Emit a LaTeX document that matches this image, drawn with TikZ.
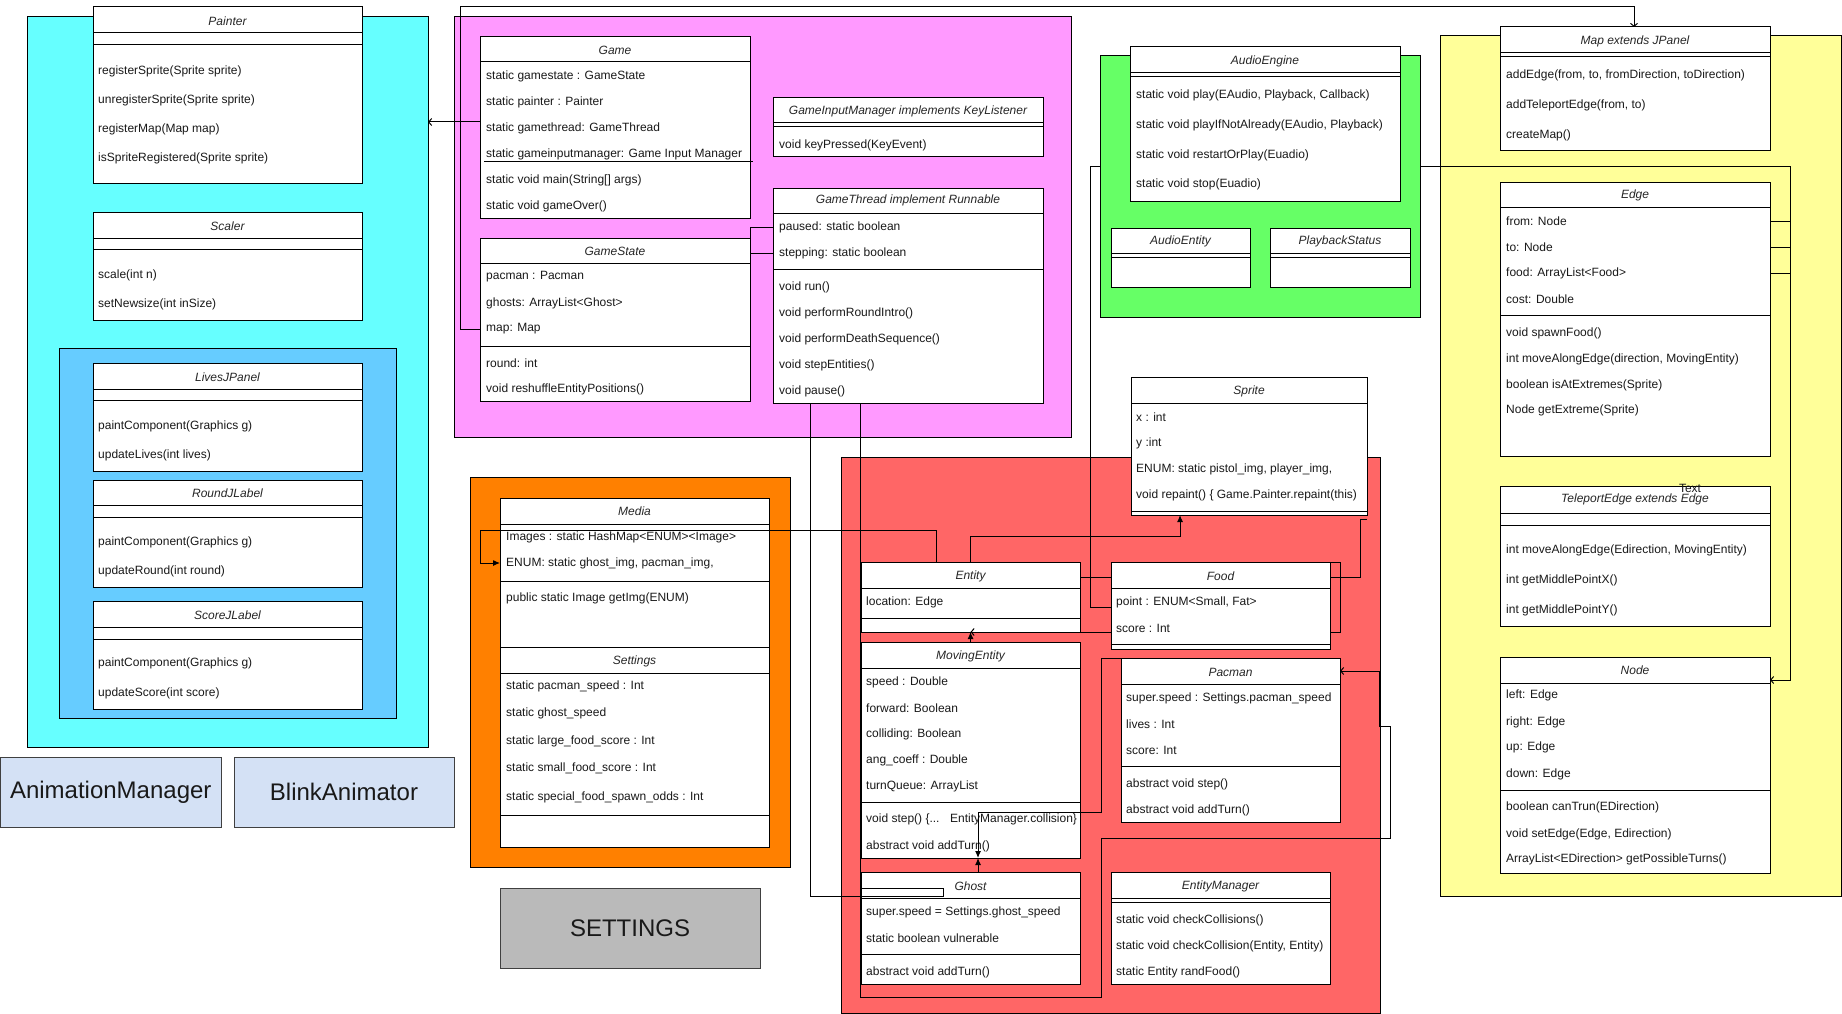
\documentclass[tikz,border=0pt]{standalone}
\usepackage{fontspec}
\setmainfont{Liberation Sans}
\usetikzlibrary{arrows.meta}
\definecolor{cyanbg}{HTML}{66FFFF}
\definecolor{bluebg}{HTML}{66CCFF}
\definecolor{pinkbg}{HTML}{FF99FF}
\definecolor{orangebg}{HTML}{FF8000}
\definecolor{redbg}{HTML}{FF6666}
\definecolor{greenbg}{HTML}{66FF66}
\definecolor{yellowbg}{HTML}{FFFF99}
\definecolor{animbg}{HTML}{D4E1F5}
\definecolor{graybg}{HTML}{BABABA}
\tikzset{
  clsbox/.style={draw=black, fill=white, line width=1pt, inner sep=0pt, outer sep=0pt},
  cont/.style={draw=black, line width=1pt, inner sep=0pt, outer sep=0pt},
  ttl/.style={font=\fontsize{12}{14}\selectfont\itshape, inner sep=0pt, text=black!85},
  txt/.style={font=\fontsize{12}{14}\selectfont, anchor=west, inner sep=0pt, text=black!90},
  bigtxt/.style={font=\fontsize{24}{28}\selectfont, inner sep=0pt, text=black!90},
  conn/.style={draw=black, line width=1pt},
  farrow/.style={-{Latex[length=7pt,width=6pt]}},
  barbarrow/.style={-{Straight Barb[length=3pt,width=7pt]}},
}
\newcounter{tn}
\newcommand\ubox[6][clsbox]{%
  \pgfmathsetmacro\bw{#5-#3}\pgfmathsetmacro\bh{#6-#4}%
  \node[#1, anchor=north west, minimum width=\bw pt, minimum height=\bh pt] (#2) at (#3,#4) {};}
\newcommand\tx[3]{\stepcounter{tn}\node[txt] (t\arabic{tn}) at (#1,#2) {#3};}
\newcommand\ti[3]{\stepcounter{tn}\node[ttl] (t\arabic{tn}) at (#1,#2) {#3};}
\newcommand\hl[3]{\draw[line width=1pt] (#1,#3) -- (#2,#3);}
\begin{document}
\begin{tikzpicture}[x=1pt,y=-1pt]
\useasboundingbox (0,0) rectangle (1842,1014);
\fill[white] (0,0) rectangle (1842,1014);
% containers
\ubox[cont, fill=cyanbg]{cyanc}{27}{17}{428}{747}
\ubox[cont, fill=bluebg]{bluec}{59}{348}{396}{718}
\ubox[cont, fill=pinkbg]{pinkc}{454}{17}{1071}{437}
\ubox[cont, fill=orangebg]{orangec}{470}{477}{790}{867}
\ubox[cont, fill=redbg]{redc}{841}{457}{1380}{1013}
\ubox[cont, fill=yellowbg]{yellowc}{1440}{36}{1841}{896}
\ubox[cont, fill=animbg, draw=black!75]{animm}{0.5}{757}{221}{827}
\ubox[cont, fill=animbg, draw=black!75]{blink}{234}{757}{454}{827}
\ubox[cont, fill=graybg, draw=black!75]{setbig}{500}{888}{760}{968}
\node[bigtxt] (animm-t) at (animm.center) {AnimationManager};
\node[bigtxt] (blink-t) at (blink.center) {BlinkAnimator};
\node[bigtxt] (setbig-t) at (setbig.center) {SETTINGS};
% Food -> Node connector (behind green box)
\ubox[clsbox, draw=none, fill=none]{foodanchor}{1111}{562}{1330}{649}
\draw[conn, barbarrow] (foodanchor.west |- 0,607) -- (1090,607) -- (1090,167) -- (1790,167) -- (1790,680) -- (1770,680);
\ubox[cont, fill=greenbg]{greenc}{1100}{56}{1420}{317}
% Food corner -> Entity (hidden part behind Food)
\draw[conn] (1330,562) -- (1340,562) -- (1340,632) -- (1111,632);
% ---------- classes ----------
% Painter
\ubox{painter}{93}{7}{362}{183}
\hl{93}{362}{33}\hl{93}{362}{45}
\ti{227.5}{21}{Painter}
\tx{98}{71}{registerSprite(Sprite sprite)}
\tx{98}{100}{unregisterSprite(Sprite sprite)}
\tx{98}{129}{registerMap(Map map)}
\tx{98}{158}{isSpriteRegistered(Sprite sprite)}
% Scaler
\ubox{scaler}{93}{212}{362}{320}
\hl{93}{362}{238}\hl{93}{362}{249}
\ti{227.5}{226}{Scaler}
\tx{98}{275}{scale(int n)}
\tx{98}{304}{setNewsize(int inSize)}
% LivesJPanel
\ubox{lives}{93}{363}{362}{471}
\hl{93}{362}{389}\hl{93}{362}{400}
\ti{227.5}{377}{LivesJPanel}
\tx{98}{426}{paintComponent(Graphics g)}
\tx{98}{455}{updateLives(int lives)}
% RoundJLabel
\ubox{roundl}{93}{480}{362}{587}
\hl{93}{362}{505}\hl{93}{362}{517}
\ti{227.5}{493}{RoundJLabel}
\tx{98}{542}{paintComponent(Graphics g)}
\tx{98}{571}{updateRound(int round)}
% ScoreJLabel
\ubox{scorel}{93}{601}{362}{709}
\hl{93}{362}{627}\hl{93}{362}{639}
\ti{227.5}{615}{ScoreJLabel}
\tx{98}{663}{paintComponent(Graphics g)}
\tx{98}{693}{updateScore(int score)}
% Game
\ubox{game}{480}{37}{750}{218}
\hl{480}{750}{62}\hl{484}{753}{162}
\ti{615}{50}{Game}
\tx{486}{76}{static gamestate : GameState}
\tx{486}{102}{static painter : Painter}
\tx{486}{128}{static gamethread: GameThread}
\tx{486}{154}{static gameinputmanager: Game Input Manager}
\tx{486}{180}{static void main(String[] args)}
\tx{486}{206}{static void gameOver()}
% GameState
\ubox{gamestate}{480}{238}{750}{401}
\hl{480}{750}{263}\hl{480}{750}{346}
\ti{615}{251}{GameState}
\tx{486}{277}{pacman : Pacman}
\tx{486}{303}{ghosts: ArrayList<Ghost>}
\tx{486}{329}{map: Map}
\tx{486}{363}{round: int}
\tx{486}{389}{void reshuffleEntityPositions()}
% GameInputManager
\ubox{gim}{773}{98}{1043}{157}
\hl{773}{1043}{123}\hl{773}{1043}{127}
\ti{908}{111}{GameInputManager implements KeyListener}
\tx{779}{145}{void keyPressed(KeyEvent)}
% GameThread
\ubox{gthread}{773}{188}{1043}{403}
\hl{773}{1043}{213}\hl{773}{1043}{269}
\ti{908}{200}{GameThread implement Runnable}
\tx{779}{227}{paused: static boolean}
\tx{779}{253}{stepping: static boolean}
\tx{779}{287}{void run()}
\tx{779}{313}{void performRoundIntro()}
\tx{779}{339}{void performDeathSequence()}
\tx{779}{365}{void stepEntities()}
\tx{779}{391}{void pause()}
% AudioEngine
\ubox{audio}{1130}{47}{1400}{201}
\hl{1130}{1400}{73}\hl{1130}{1400}{77}
\ti{1265}{61}{AudioEngine}
\tx{1136}{95}{static void play(EAudio, Playback, Callback)}
\tx{1136}{125}{static void playIfNotAlready(EAudio, Playback)}
\tx{1136}{155}{static void restartOrPlay(Euadio)}
\tx{1136}{184}{static void stop(Euadio)}
% AudioEntity
\ubox{aentity}{1111}{228}{1250}{287}
\hl{1111}{1250}{253}\hl{1111}{1250}{257}
\ti{1180.5}{241}{AudioEntity}
% PlaybackStatus
\ubox{pstatus}{1270}{228}{1410}{287}
\hl{1270}{1410}{253}\hl{1270}{1410}{257}
\ti{1340}{241}{PlaybackStatus}
% Map
\ubox{map}{1500}{27}{1770}{151}
\hl{1500}{1770}{53}\hl{1500}{1770}{57}
\ti{1635}{41}{Map extends JPanel}
\tx{1506}{75}{addEdge(from, to, fromDirection, toDirection)}
\tx{1506}{105}{addTeleportEdge(from, to)}
\tx{1506}{135}{createMap()}
% Edge
\ubox{edge}{1500}{182}{1770}{456}
\hl{1500}{1770}{207}\hl{1500}{1770}{315}
\ti{1635}{195}{Edge}
\tx{1506}{221}{from: Node}
\tx{1506}{247}{to: Node}
\tx{1506}{273}{food: ArrayList<Food>}
\tx{1506}{299}{cost: Double}
\tx{1506}{333}{void spawnFood()}
\tx{1506}{359}{int moveAlongEdge(direction, MovingEntity)}
\tx{1506}{385}{boolean isAtExtremes(Sprite)}
\tx{1506}{410}{Node getExtreme(Sprite)}
% TeleportEdge
\ubox{tedge}{1500}{486}{1770}{626}
\hl{1500}{1770}{513}\hl{1500}{1770}{525}
\ti{1635}{499}{TeleportEdge extends Edge}
\tx{1506}{550}{int moveAlongEdge(Edirection, MovingEntity)}
\tx{1506}{580}{int getMiddlePointX()}
\tx{1506}{610}{int getMiddlePointY()}
\node[txt, anchor=center] (textlbl) at (1690,488) {Text};
% Node
\ubox{nodec}{1500}{657}{1770}{873}
\hl{1500}{1770}{683}\hl{1500}{1770}{790}
\ti{1635}{670}{Node}
\tx{1506}{695}{left: Edge}
\tx{1506}{722}{right: Edge}
\tx{1506}{747}{up: Edge}
\tx{1506}{774}{down: Edge}
\tx{1506}{807}{boolean canTrun(EDirection)}
\tx{1506}{834}{void setEdge(Edge, Edirection)}
\tx{1506}{859}{ArrayList<EDirection> getPossibleTurns()}
% Media
\ubox{media}{500}{498}{769}{647}
\hl{500}{769}{524}\hl{500}{769}{581}
\ti{634.5}{511}{Media}
\tx{506}{537}{Images : static HashMap<ENUM><Image>}
\tx{506}{563}{ENUM: static ghost\_img, pacman\_img,}
\tx{506}{598}{public static Image getImg(ENUM)}
% Settings
\ubox{settings}{500}{647}{769}{847}
\hl{500}{769}{673}\hl{500}{769}{815}
\ti{634.5}{661}{Settings}
\tx{506}{686}{static pacman\_speed : Int}
\tx{506}{713}{static ghost\_speed}
\tx{506}{741}{static large\_food\_score : Int}
\tx{506}{768}{static small\_food\_score : Int}
\tx{506}{797}{static special\_food\_spawn\_odds : Int}
% Sprite
\ubox{sprite}{1131}{377}{1367}{515}
\hl{1131}{1367}{403}\hl{1131}{1367}{511}
\ti{1249}{391}{Sprite}
\tx{1136}{417}{x : int}
\tx{1136}{443}{y :int}
\tx{1136}{469}{ENUM: static pistol\_img, player\_img,}
\tx{1136}{495}{void repaint() \{ Game.Painter.repaint(this)}
% Entity
\ubox{entity}{861}{562}{1080}{632}
\hl{861}{1080}{588}\hl{861}{1080}{618}
\ti{970.5}{576}{Entity}
\tx{866}{602}{location: Edge}
% Food
\ubox{food}{1111}{562}{1330}{649}
\hl{1111}{1330}{588}\hl{1111}{1330}{644}
\ti{1220.5}{576}{Food}
\tx{1116}{602}{point : ENUM<Small, Fat>}
\tx{1116}{628}{score : Int}
% MovingEntity
\ubox{moving}{861}{642}{1080}{858}
\hl{861}{1080}{668}\hl{861}{1080}{802}
\ti{970.5}{656}{MovingEntity}
\tx{866}{682}{speed : Double}
\tx{866}{708}{forward: Boolean}
\tx{866}{734}{colliding: Boolean}
\tx{866}{760}{ang\_coeff : Double}
\tx{866}{786}{turnQueue: ArrayList}
\tx{866}{819}{void step() \{...}
\tx{950}{819}{EntityManager.collision\}}
\tx{866}{846}{abstract void addTurn()}
% Ghost
\ubox{ghost}{861}{872}{1080}{984}
\hl{861}{1080}{898}\hl{861}{1080}{954}
\ti{970.5}{886}{Ghost}
\tx{866}{912}{super.speed = Settings.ghost\_speed}
\tx{866}{938}{static boolean vulnerable}
\tx{866}{972}{abstract void addTurn()}
% Pacman
\ubox{pacman}{1121}{658}{1340}{822}
\hl{1121}{1340}{684}\hl{1121}{1340}{766}
\ti{1230.5}{672}{Pacman}
\tx{1126}{698}{super.speed : Settings.pacman\_speed}
\tx{1126}{724}{lives : Int}
\tx{1126}{750}{score: Int}
\tx{1126}{784}{abstract void step()}
\tx{1126}{810}{abstract void addTurn()}
% EntityManager
\ubox{emgr}{1111}{872}{1330}{984}
\hl{1111}{1330}{898}\hl{1111}{1330}{902}
\ti{1220.5}{886}{EntityManager}
\tx{1116}{920}{static void checkCollisions()}
\tx{1116}{946}{static void checkCollision(Entity, Entity)}
\tx{1116}{972}{static Entity randFood()}
% ---------- connectors ----------
\draw[conn, barbarrow] (game.west |- 0,122) -- (cyanc.east |- 0,122);
\draw[conn, barbarrow] (gamestate.west |- 0,329) -- (460,329) -- (460,7) -- (1634,7) -- (map.north -| 1634,0);
\draw[conn] (gthread.west |- 0,227) -- (750,227) -- (gamestate.north -| 750,0);
\draw[conn] (gthread.west |- 0,253) -- (gamestate.east |- 0,253);
\draw[conn] (gthread.south -| 810,0) -- (810,896) -- (943,896) -- (943,888) -- (ghost.west |- 0,888);
\draw[conn, barbarrow] (gthread.south -| 860,0) -- (860,997) -- (1101,997) -- (1101,838) -- (1390,838) -- (1390,726) -- (1379,726) -- (1379,671) -- (pacman.east |- 0,671);
\foreach \yy in {221,247,273} \draw[conn] (edge.east |- 0,\yy) -- (1790,\yy);
\draw[conn, farrow] (entity.north -| 936,0) -- (936,530) -- (480,530) -- (480,563) -- (media.west |- 0,563);
\draw[conn, farrow] (entity.north -| 970,0) -- (970,536) -- (1180,536) -- (sprite.south -| 1180,0);
\draw[conn] (food.east |- 0,577) -- (1360,577) -- (1360,519) -- (sprite.east |- 0,519);
\draw[conn] (entity.east |- 0,577) -- (food.west |- 0,577);
\draw[conn, barbarrow] (food.west |- 0,632) -- (entity.south);
\draw[conn, farrow] (moving.north) -- (entity.south);
\draw[conn, farrow] (ghost.north -| 978,0) -- (moving.south -| 978,0);
\draw[conn, farrow] (pacman.north west) -- (1101,658) -- (1101,812) -- (978,812) -- (moving.south -| 978,0);
\end{tikzpicture}
\end{document}
